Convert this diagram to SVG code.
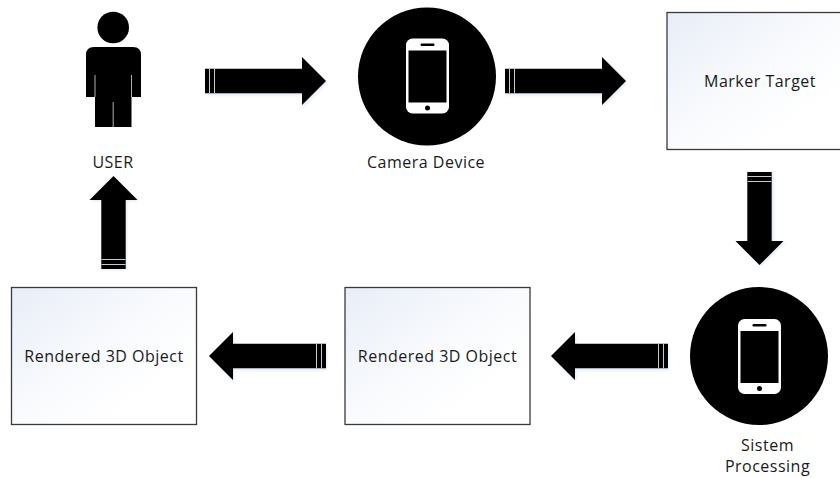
<svg xmlns="http://www.w3.org/2000/svg" width="840" height="478" viewBox="0 0 840 478">
<style>
text{font-family:"Open Sans","Noto Sans","Liberation Sans",sans-serif;font-size:16px;letter-spacing:.5px;fill:#1a1a1a;text-anchor:middle}
.box{fill:url(#boxFill);stroke:#3a3a3a;stroke-width:1.3}
.ink{fill:#000}
.stripe{stroke:#e0e0e0;stroke-width:.9;fill:none}
.glow{fill:#c4d5ea;opacity:.5;filter:url(#blur)}
</style>
<defs>
<linearGradient id="boxFill" x1="0" y1="0" x2="1" y2="1">
<stop offset="0" stop-color="#e8edf7"/><stop offset=".45" stop-color="#f8fafd"/><stop offset=".75" stop-color="#fff"/>
</linearGradient>
<filter id="blur" x="-20%" y="-20%" width="140%" height="140%"><feGaussianBlur stdDeviation="1.6"/></filter>
<filter id="soft" x="-5%" y="-5%" width="110%" height="110%"><feGaussianBlur stdDeviation="0.4"/></filter>
<g id="phone">
<rect x="0" y="0" width="43" height="75" rx="6.5" fill="#fff"/>
<rect x="2.500" y="12" width="38" height="52" fill="#000"/>
<rect x="14.500" y="5" width="14" height="2.500" rx="1.200" fill="#000"/>
<circle cx="21.500" cy="69.500" r="2.500" fill="#000"/>
</g>
<path id="arrow-long" d="M0 -12.200H97V-24L121 0L97 24V12.200H0Z"/>
<path id="arrow-mid" d="M0 -12.200H93V-24L117 0L93 24V12.200H0Z"/>
<path id="arrow-short" d="M0 -12.200H69V-24L93 0L69 24V12.200H0Z"/>
</defs>
<g id="connectors">
<g transform="translate(205 81)"><use href="#arrow-long" class="glow" x="1" y="2"/><use href="#arrow-long" class="ink"/><path class="stripe" d="M4.500 -12V12M9.500 -12V12"/></g>
<g transform="translate(505 81)"><use href="#arrow-long" class="glow" x="1" y="2"/><use href="#arrow-long" class="ink"/><path class="stripe" d="M4.500 -12V12M9.500 -12V12"/></g>
<g transform="translate(759.500 172) rotate(90)"><use href="#arrow-short" class="glow" x="1" y="-2"/><use href="#arrow-short" class="ink"/><path class="stripe" d="M4.500 -12V12M9.500 -12V12"/></g>
<g transform="translate(668 356) rotate(180)"><use href="#arrow-mid" class="glow" x="-1" y="-2"/><use href="#arrow-mid" class="ink"/><path class="stripe" d="M4.500 -12V12M9.500 -12V12"/></g>
<g transform="translate(326 356) rotate(180)"><use href="#arrow-mid" class="glow" x="-1" y="-2"/><use href="#arrow-mid" class="ink"/><path class="stripe" d="M4.500 -12V12M9.500 -12V12"/></g>
<g transform="translate(113.500 269) rotate(-90)"><use href="#arrow-short" class="glow" x="-1" y="1"/><use href="#arrow-short" class="ink"/><path class="stripe" d="M4.500 -12V12M9.500 -12V12"/></g>
</g>
<g id="user">
<g filter="url(#soft)">
<circle cx="113.200" cy="27.500" r="15.800" class="ink"/>
<path class="ink" d="M94 47H133Q141 47 141 55V97H131.500V127H95V97H86V55Q86 47 94 47Z"/>
<path d="M95 75V97M131.500 75V97M113.200 102V127" stroke="#ddd" stroke-width="0.800" fill="none"/>
</g>
<text x="113" y="168">USER</text>
</g>
<g id="camera-device">
<circle cx="427" cy="76.500" r="69" class="ink" filter="url(#soft)"/>
<use href="#phone" x="406" y="38.500" filter="url(#soft)"/>
<text x="426" y="168">Camera Device</text>
</g>
<g id="marker-target">
<rect x="667" y="12.500" width="185" height="137" class="box"/>
<text x="760" y="87">Marker Target</text>
</g>
<g id="sistem-processing">
<circle cx="759" cy="356" r="69" class="ink" filter="url(#soft)"/>
<use href="#phone" x="738" y="319" filter="url(#soft)"/>
<text x="767.500" y="451">Sistem</text>
<text x="767.500" y="472">Processing</text>
</g>
<g id="rendered-right">
<rect x="345" y="287.500" width="185" height="137" class="box"/>
<text x="437.500" y="362">Rendered 3D Object</text>
</g>
<g id="rendered-left">
<rect x="11.500" y="287.500" width="185" height="137" class="box"/>
<text x="104" y="362">Rendered 3D Object</text>
</g>
</svg>
